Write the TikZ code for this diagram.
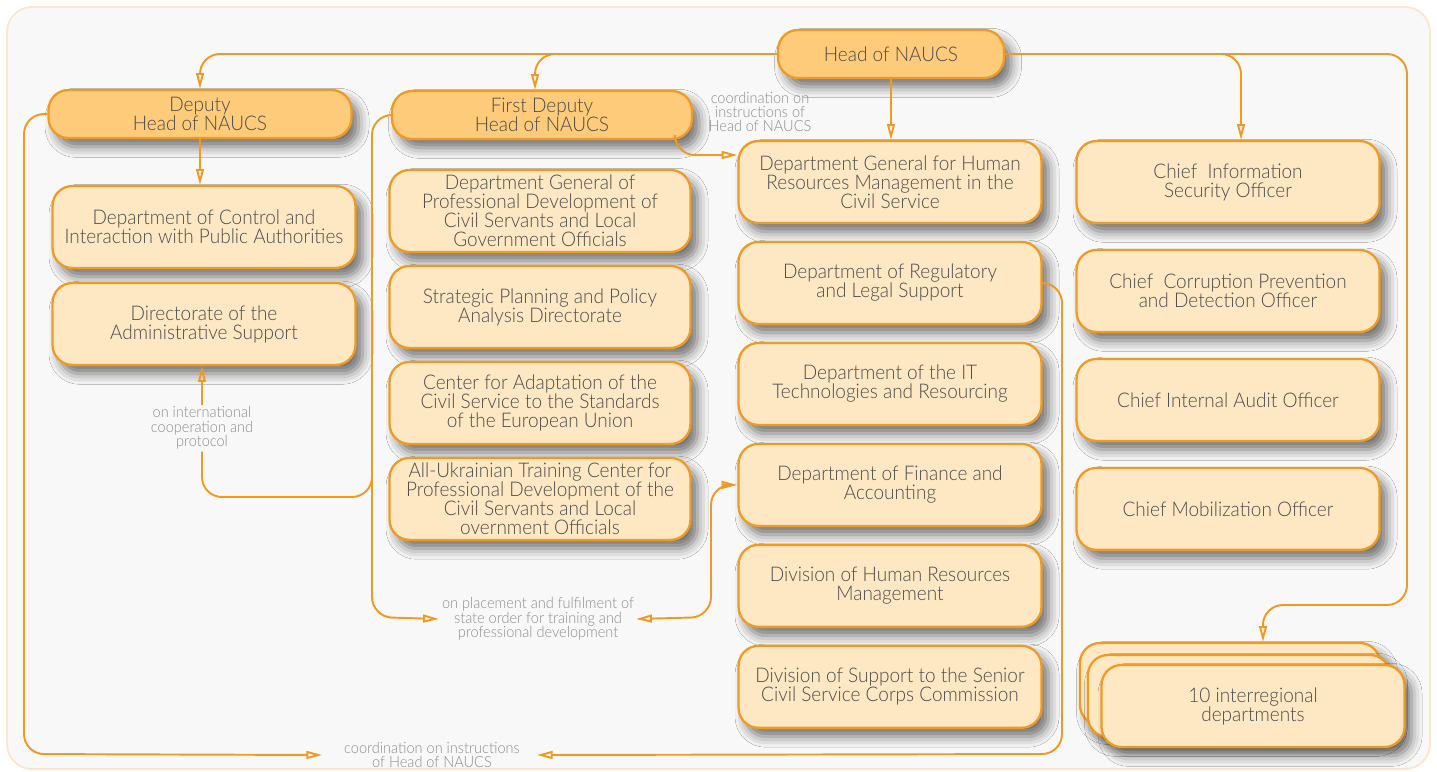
\documentclass[tikz,border=0pt]{standalone}
\usepackage{fontspec}
\setmainfont{Lato Light}[FakeStretch=0.94]
\usetikzlibrary{arrows.meta, positioning, shadows.blur}
\definecolor{orng}{RGB}{241,154,33}
\definecolor{boxfill}{RGB}{254,232,196}
\definecolor{headfill}{RGB}{253,203,122}
\definecolor{boxtext}{RGB}{75,75,75}
\definecolor{notetext}{RGB}{140,140,140}
\definecolor{bgfill}{RGB}{248,248,248}
\definecolor{bgline}{RGB}{253,230,200}
\tikzset{%
>={Triangle[open,length=9pt,width=4.5pt]},
  % Specifications for style of nodes:
            unitbox/.style = {rectangle, rounded corners=0.4cm, draw=orng,
                            line width=1.3pt, fill=boxfill, text=boxtext,
                            minimum width=6.06cm, minimum height=1.64cm,
                            inner sep=2pt, align=center,
                            font=\fontsize{11.5}{10.8}\selectfont,
                            blur shadow={shadow xshift=4pt, shadow yshift=-5pt,
                            shadow blur radius=6pt, shadow opacity=55}},
            headbox/.style = {unitbox, fill=headfill, minimum height=0.96cm},
            notelabel/.style = {text=notetext, align=center, inner sep=1pt,
                            font=\fontsize{8.8}{8.2}\selectfont},
  % Specifications for style of connectors:
            link/.style = {draw=orng, line width=1.1pt, rounded corners=0.4cm}
}
\begin{document}
\begin{tikzpicture}[x=0.02cm, y=-0.02cm]
                        \useasboundingbox (0,0) rectangle (1437,771);
                        \draw[draw=bgline, fill=bgfill, line width=1pt, rounded corners=0.5cm] (7,7) rectangle (1430,769);
                        % heads
                        \node[headbox, minimum width=4.52cm] (head) at (891,54) {Head of NAUCS};
                        \node[headbox] (dep) at (200,114) {Deputy\\Head of NAUCS};
                        \node[headbox, minimum width=6cm] (fdep) at (542,115) {First Deputy\\Head of NAUCS};
                        % first column
                        \node[unitbox] (ctrl) at (204,227) {Department of Control and\\Interaction with Public Authorities};
                        \node[unitbox, below=0.254cm of ctrl] (admin) {Directorate of the\\Administrative Support};
                        % second column
                        \node[unitbox, minimum width=6.02cm] (profdev) at (540,211) {Department General of\\Professional Development of\\Civil Servants and Local\\Government Officials};
                        \node[unitbox, minimum width=6.02cm, below=0.234cm of profdev] (strat) {Strategic Planning and Policy\\Analysis Directorate};
                        \node[unitbox, minimum width=6.02cm, below=0.234cm of strat] (euadapt) {Center for Adaptation of the\\Civil Service to the Standards\\of the European Union};
                        \node[unitbox, minimum width=6.02cm, below=0.234cm of euadapt] (training) {All-Ukrainian Training Center for\\Professional Development of the\\Civil Servants and Local\\overnment Officials};
                        % third column
                        \node[unitbox] (hrgen) at (890,182) {Department General for Human\\Resources Management in the\\Civil Service};
                        \node[unitbox, below=0.334cm of hrgen] (regl) {Department of Regulatory\\and Legal Support};
                        \node[unitbox, below=0.334cm of regl] (itres) {Department of the IT\\Technologies and Resourcing};
                        \node[unitbox, below=0.334cm of itres] (fin) {Department of Finance and\\Accounting};
                        \node[unitbox, below=0.334cm of fin] (hrdiv) {Division of Human Resources\\Management};
                        \node[unitbox, below=0.334cm of hrdiv] (scsdiv) {Division of Support to the Senior\\Civil Service Corps Commission};
                        % fourth column
                        \node[unitbox] (ciso) at (1228,182) {Chief\ \ Information\\Security Officer};
                        \node[unitbox, below=0.494cm of ciso] (corrupt) {Chief\ \ Corruption Prevention\\and Detection Officer};
                        \node[unitbox, below=0.494cm of corrupt] (audit) {Chief Internal Audit Officer};
                        \node[unitbox, below=0.494cm of audit] (mobil) {Chief Mobilization Officer};
                        % interregional stack
                        \node[unitbox, minimum width=6cm] (regc) at (1230,684) {};
                        \node[unitbox, minimum width=6.04cm] (regb) at (1239,696) {};
                        \node[unitbox] (reg) at (1253,706) {10 interregional\\departments};
                        % labels
                        \node[notelabel] (coordnote) at (760,112) {coordination on\\instructions of\\Head of NAUCS};
                        \node[notelabel] (intnote) at (202,428) {on international\\cooperation and\\protocol};
                        \node[notelabel] (placenote) at (538,619) {on placement and fulfilment of\\state order for training and\\professional development};
                        \node[notelabel] (instrnote) at (432,755) {coordination on instructions\\of Head of NAUCS};
                        % turning points
                        \coordinate (lcorner) at (24,754);
                        \coordinate (rcorner) at (1062,754);
                        \coordinate (fturn) at (372,617);
                        \coordinate (fjoin) at (372,497);
                        \coordinate (mturn) at (711,617);
                        \coordinate (rturn) at (1407,605);
                        % connectors
                        \draw[link, ->] (head.west) -| (dep.north);
                        \draw[link, ->] (head.west) -| ([xshift=-0.14cm]fdep.north);
                        \draw[link, ->] (head.south) -- (head.south |- hrgen.north);
                        \draw[link, ->] (head.east) -| ([xshift=0.26cm]ciso.north);
                        \draw[link, ->] (head.east) -| (rturn) -| ([xshift=0.66cm]regc.north);
                        \draw[link, ->] (dep.south) -- (dep.south |- ctrl.north);
                        \draw[link, ->] ([xshift=2.66cm]fdep.south) |- ([yshift=0.54cm]hrgen.west);
                        \draw[link, ->] (fdep.west) -| (fturn) -- ([xshift=-0.02cm]placenote.west);
                        \draw[link] ([yshift=0.5cm]fjoin) -- (fjoin) -| (intnote.south);
                        \draw[link, ->] (intnote.north) -- (intnote.north |- admin.south);
                        \draw[link, <->] (fin.west) -| (mturn) -- (placenote.east);
                        \draw[link, ->] (dep.west) -| (lcorner) -- ([xshift=-0.4cm]instrnote.west);
                        \draw[link, ->] (regl.east) -| (rcorner) -- ([xshift=0.3cm]instrnote.east);
                    \end{tikzpicture}
\end{document}
